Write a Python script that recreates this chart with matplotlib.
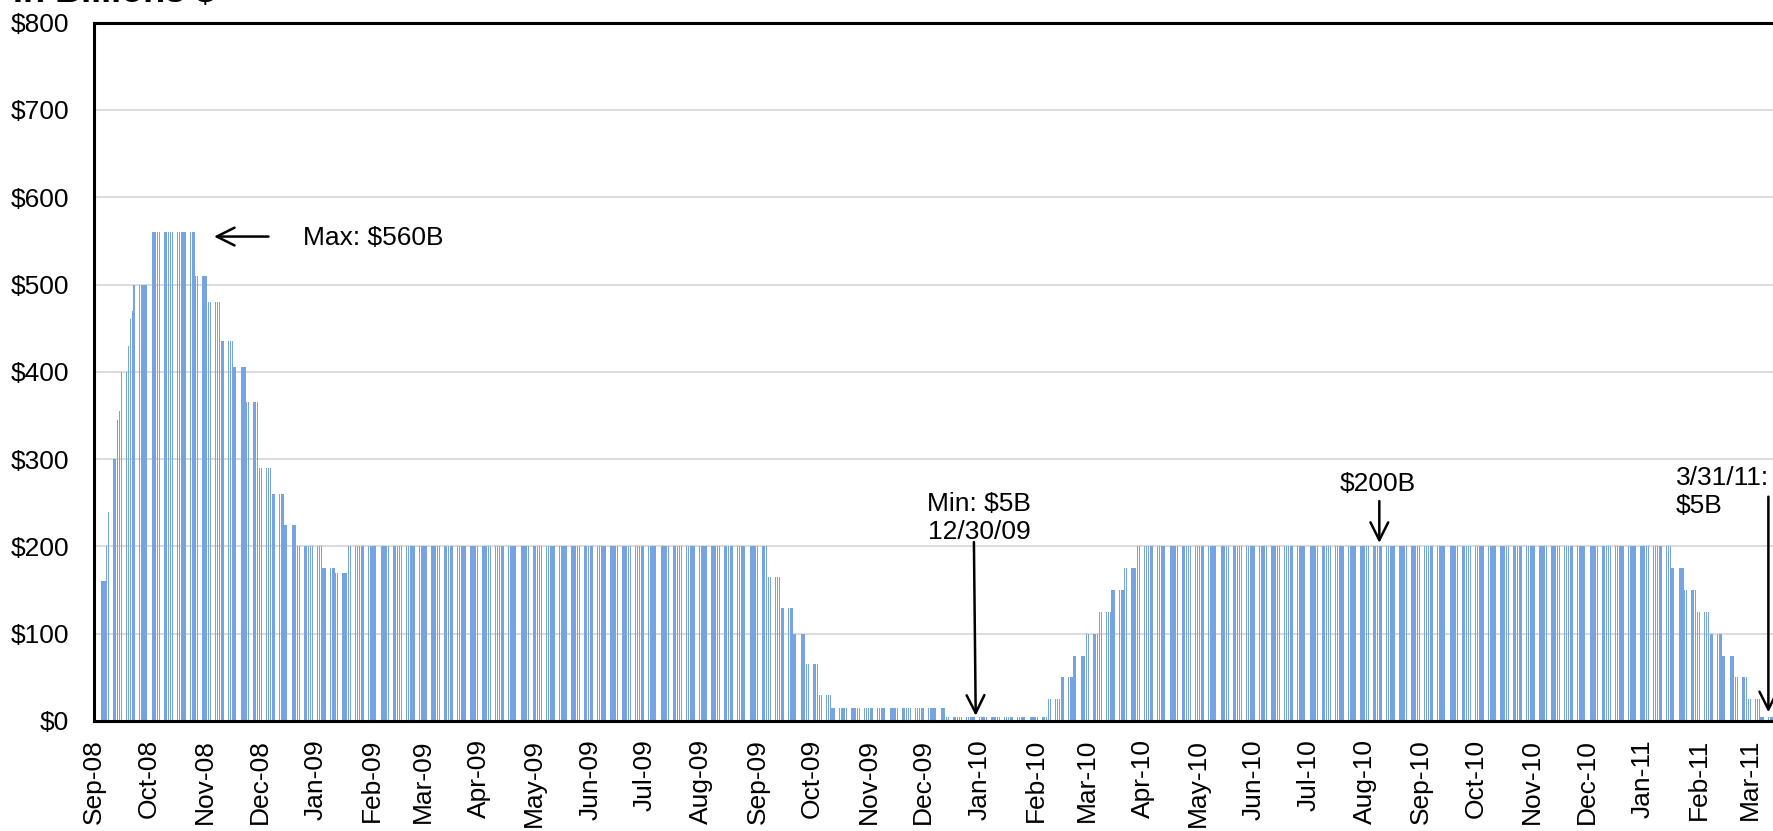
import numpy as np
import pandas as pd
import matplotlib
matplotlib.use("Agg")
import matplotlib.pyplot as plt
import matplotlib.dates as mdates

plt.rcParams['font.family'] = ['Liberation Sans', 'DejaVu Sans']

# outstanding balance in billions $, each level holds from its date to the next change
change_dates = [
    "2008-09-08", "2008-09-11", "2008-09-12", "2008-09-15", "2008-09-17",
    "2008-09-18", "2008-09-19", "2008-09-23", "2008-09-24", "2008-09-25",
    "2008-09-26", "2008-10-06", "2008-10-30", "2008-11-06", "2008-11-13",
    "2008-11-20", "2008-11-27", "2008-12-04", "2008-12-11", "2008-12-18",
    "2008-12-25", "2009-01-08", "2009-01-15", "2009-01-22",
    "2009-09-10", "2009-09-17", "2009-09-24", "2009-10-01", "2009-10-08",
    "2009-10-15", "2009-12-17",
    "2010-02-11", "2010-02-18", "2010-02-25", "2010-03-04", "2010-03-11",
    "2010-03-18", "2010-03-25", "2010-04-01",
    "2011-01-20", "2011-01-27", "2011-02-03", "2011-02-10", "2011-02-17",
    "2011-02-24", "2011-03-03", "2011-03-10",
]
levels = [
    160, 200, 240, 300, 345,
    355, 400, 430, 460, 470,
    500, 560, 510, 480, 435,
    405, 365, 290, 260, 225,
    200, 175, 170, 200,
    165, 130, 100, 65, 30,
    15, 5,
    25, 50, 75, 100, 125,
    150, 175, 200,
    175, 150, 125, 100, 75,
    50, 25, 5,
]
first_day = "2008-09-08"
last_day = "2011-03-31"

days = pd.bdate_range(first_day, last_day)
steps = pd.to_datetime(change_dates)
balance = np.array(levels)[np.searchsorted(steps, days, side="right") - 1]

W, H = 1773, 831
fig = plt.figure(figsize=(W / 100, H / 100), dpi=100)

x_start = pd.Timestamp("2008-09-04")
x_end = pd.Timestamp("2011-04-04")
px_per_day = 1.818
ax_w = (x_end - x_start).days * px_per_day
ax = fig.add_axes([94 / W, (H - 721) / H, ax_w / W, (721 - 22.7) / H])

ax.bar(days, balance, width=0.72, color="#76A3E1", linewidth=0, zorder=2)

ax.set_xlim(x_start, x_end)
ax.set_ylim(0, 800)
ax.set_yticks(np.arange(0, 801, 100))
ax.yaxis.set_major_formatter(plt.FuncFormatter(lambda v, p: "${:.0f}".format(v)))
ax.xaxis.set_major_locator(mdates.MonthLocator(bymonthday=4))
ax.xaxis.set_major_formatter(mdates.DateFormatter("%b-%y"))
ax.tick_params(axis="y", length=0, pad=18, labelsize=19)
ax.tick_params(axis="x", length=0, pad=13, labelsize=19, labelrotation=90)

ax.yaxis.grid(True, color="#D9D9D9", lw=1.3)
ax.set_axisbelow(True)
for side in ["top", "left", "bottom"]:
    ax.spines[side].set_linewidth(2.2)
    ax.spines[side].set_color("black")
ax.spines["right"].set_visible(False)

fig.text(13 / W, 1 - 2 / H, "In Billions $", fontsize=26, fontweight="bold",
         ha="left", va="baseline")

arrow = dict(arrowstyle="->", lw=1.8, color="black", mutation_scale=32,
             shrinkA=0, shrinkB=0)
d = pd.Timestamp

# peak
ax.annotate("", xy=(d("2008-11-09"), 555), xytext=(d("2008-12-09"), 555),
            arrowprops=arrow)
ax.text(d("2008-12-28"), 553, "Max: $560B", fontsize=19, ha="left", va="center")

# trough
ax.annotate("", xy=(d("2010-01-02"), 6), xytext=(d("2010-01-01"), 205),
            arrowprops=arrow)
ax.text(d("2010-01-03 18:00"), 233, "Min: $5B\n12/30/09", fontsize=19,
        ha="center", va="center", multialignment="center")

# plateau
ax.annotate("", xy=(d("2010-08-12"), 204), xytext=(d("2010-08-12"), 252),
            arrowprops=arrow)
ax.text(d("2010-08-11"), 271, "$200B", fontsize=19, ha="center", va="center")

# end of program
ax.annotate("", xy=(d("2011-03-14"), 10), xytext=(d("2011-03-14"), 257),
            arrowprops=arrow)
ax.text(d("2011-01-22"), 262, "3/31/11:\n$5B", fontsize=19, ha="left", va="center")

fig.savefig("out.png", dpi=100)
